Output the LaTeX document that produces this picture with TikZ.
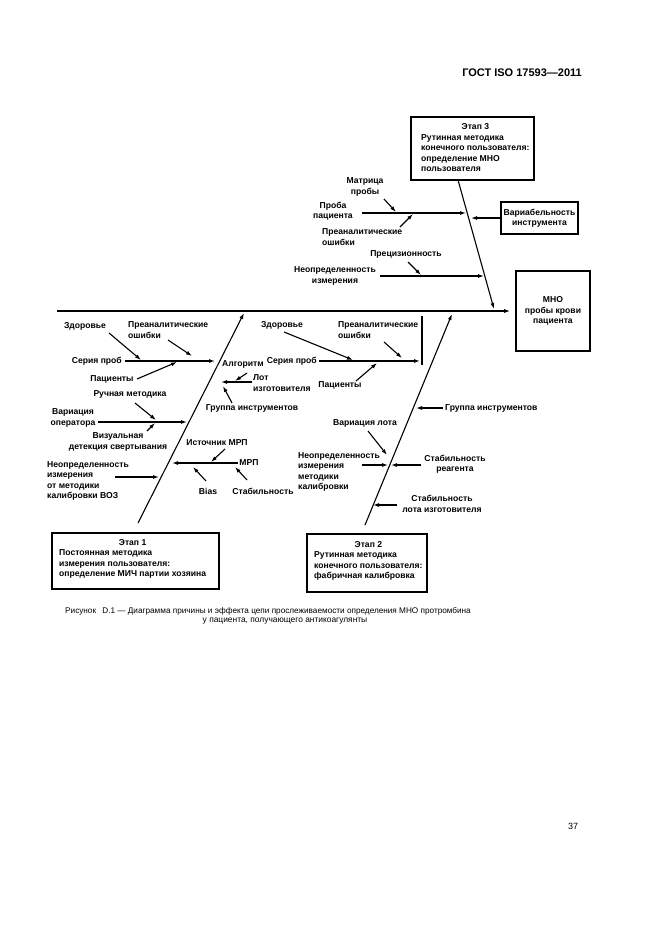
\documentclass[tikz,border=0pt]{standalone}
\usepackage{fontspec}
\setmainfont{Liberation Sans}
\usetikzlibrary{arrows.meta}
\newcommand\lblfont{\fontsize{8.6}{10.5}\selectfont\bfseries}
\newcommand\stagetitle[1]{\multicolumn{1}{@{}c@{}}{#1}}

\begin{document}
\begin{tikzpicture}[x=1pt,y=-1pt,
		lbl/.style={font=\lblfont, inner sep=0pt, align=center},
		lbll/.style={font=\lblfont, inner sep=0pt, align=left},
		ln/.style={line width=1.1pt},
		arr/.style={ln, -{Latex[length=6pt,width=4pt]}},
		framebox/.style={draw, line width=1.6pt, inner sep=0pt, font=\lblfont, align=center},
		boxtxt/.style={font=\lblfont, inner sep=0pt, anchor=west}]
		%%%%% START %%%%%
		
		\useasboundingbox (0,0) rectangle (661,936);
		
		\node[inner sep=0pt, anchor=east, font=\fontsize{11}{12}\selectfont\bfseries] (hdr) at (582,73) {ГОСТ ISO 17593—2011};
		
		% boxes
		\node[framebox, minimum width=123pt, minimum height=63pt] (stage3) at (472.5,148.5) {};
		\node[boxtxt] (stage3txt) at (421,148.5) {\begin{tabular}{@{}l@{}}\stagetitle{Этап 3}\\Рутинная методика\\конечного пользователя:\\определение МНО\\пользователя\end{tabular}};
		\node[framebox, minimum width=167pt, minimum height=56pt] (stage1) at (135.5,561) {};
		\node[boxtxt] (stage1txt) at (59,559) {\begin{tabular}{@{}l@{}}\stagetitle{Этап 1}\\Постоянная методика\\измерения пользователя:\\определение МИЧ партии хозяина\end{tabular}};
		\node[framebox, minimum width=120pt, minimum height=58pt] (stage2) at (367,563) {};
		\node[boxtxt] (stage2txt) at (314,561) {\begin{tabular}{@{}l@{}}\stagetitle{Этап 2}\\Рутинная методика\\конечного пользователя:\\фабричная калибровка\end{tabular}};
		\node[framebox, minimum width=74pt, minimum height=80pt] (mno) at (553,311) {МНО\\пробы крови\\пациента};
		\node[framebox, minimum width=77pt, minimum height=32pt] (var) at (539.5,218) {Вариабельность\\инструмента};
		
		% labels, stage 3
		\node[lbl] (matr) at (365,187) {Матрица\\пробы};
		\node[lbl] (proba) at (333,211) {Проба\\пациента};
		\node[lbll, anchor=west] (pre3) at (322,237) {Преаналитические\\ошибки};
		\node[lbl] (prec) at (406,254) {Прецизионность};
		\node[lbl] (neop3) at (335,276) {Неопределенность\\измерения};
		
		% labels, stage 1
		\node[lbl] (zdor1) at (85,326) {Здоровье};
		\node[lbll, anchor=west] (pre1) at (128,330) {Преаналитические\\ошибки};
		\node[lbl, anchor=east] (ser1) at (122,361) {Серия проб};
		\node[lbl] (pac1) at (112,379) {Пациенты};
		\node[lbl] (alg) at (243,364) {Алгоритм};
		\node[lbll, anchor=west] (lot1) at (253,383) {Лот\\изготовителя};
		\node[lbl] (grp1) at (252,408) {Группа инструментов};
		\node[lbl] (ruch) at (130,394) {Ручная методика};
		\node[lbl] (varop) at (73,418) {Вариация\\оператора};
		\node[lbl] (vis) at (118,442) {Визуальная\\детекция свертывания};
		\node[lbll, anchor=west] (neop1) at (47,481) {Неопределенность\\измерения\\от методики\\калибровки ВОЗ};
		\node[lbl] (mrp) at (249,463) {МРП};
		\node[lbl] (istmrp) at (217,443) {Источник МРП};
		\node[lbl] (bias) at (208,491) {Bias};
		\node[lbl] (stab1) at (263,491) {Стабильность};
		
		% labels, stage 2
		\node[lbl] (zdor2) at (282,325) {Здоровье};
		\node[lbll, anchor=west] (pre2) at (338,330) {Преаналитические\\ошибки};
		\node[lbl, anchor=east] (ser2) at (317,361) {Серия проб};
		\node[lbl] (pac2) at (340,385) {Пациенты};
		\node[lbl, anchor=west] (grp2) at (445,408) {Группа инструментов};
		\node[lbl] (varlot) at (365,423) {Вариация лота};
		\node[lbll, anchor=west] (neop2) at (298,472) {Неопределенность\\измерения\\методики\\калибровки};
		\node[lbl] (stabr) at (455,464) {Стабильность\\реагента};
		\node[lbl] (stabl) at (442,504) {Стабильность\\лота изготовителя};
		
		% end points
		\coordinate (spL) at (57,311);
		\coordinate (s3a) at (458,180); \coordinate (s3b) at (494,309);
		\coordinate (p3a) at (362,213); \coordinate (p3b) at (466,213);
		\coordinate (m3a) at (384,199); \coordinate (m3b) at (396,212);
		\coordinate (e3a) at (400,227); \coordinate (e3b) at (413,214);
		\coordinate (v3b) at (471,218);
		\coordinate (n3a) at (380,276); \coordinate (n3b) at (484,276);
		\coordinate (c3a) at (408,262); \coordinate (c3b) at (421,275);
		
		\coordinate (s1a) at (138,523); \coordinate (s1b) at (244,313);
		\coordinate (r1a) at (125,361); \coordinate (r1b) at (215,361);
		\coordinate (z1a) at (109,333); \coordinate (z1b) at (141,360);
		\coordinate (q1a) at (168,340); \coordinate (q1b) at (192,356);
		\coordinate (t1a) at (137,379); \coordinate (t1b) at (177,362);
		\coordinate (l1a) at (252,382); \coordinate (l1b) at (221,382);
		\coordinate (k1a) at (247,373); \coordinate (k1b) at (235,381);
		\coordinate (g1a) at (232,403); \coordinate (g1b) at (223,386);
		\coordinate (o1a) at (98,422); \coordinate (o1b) at (187,422);
		\coordinate (h1a) at (135,403); \coordinate (h1b) at (156,420);
		\coordinate (w1a) at (147,431); \coordinate (w1b) at (155,423);
		\coordinate (u1a) at (115,477); \coordinate (u1b) at (159,477);
		\coordinate (f1a) at (238,463); \coordinate (f1b) at (172,463);
		\coordinate (i1a) at (225,449); \coordinate (i1b) at (211,462);
		\coordinate (b1a) at (206,481); \coordinate (b1b) at (193,467);
		\coordinate (d1a) at (247,480); \coordinate (d1b) at (235,467);
		
		\coordinate (s2a) at (365,525); \coordinate (s2b) at (452,314);
		\coordinate (r2a) at (319,361); \coordinate (r2b) at (420,361);
		\coordinate (bar2a) at (422,316); \coordinate (bar2b) at (422,365);
		\coordinate (z2a) at (284,332); \coordinate (z2b) at (353,360);
		\coordinate (q2a) at (384,342); \coordinate (q2b) at (402,358);
		\coordinate (t2a) at (356,381); \coordinate (t2b) at (377,363);
		\coordinate (g2a) at (443,408); \coordinate (g2b) at (416,408);
		\coordinate (v2a) at (368,431); \coordinate (v2b) at (387,455);
		\coordinate (n2a) at (362,465); \coordinate (n2b) at (388,465);
		\coordinate (a2a) at (421,465); \coordinate (a2b) at (391,465);
		\coordinate (y2a) at (397,505); \coordinate (y2b) at (373,505);
		
		% spine
		\draw[arr, line width=1.3pt, shorten >=5pt] (spL) -- (mno.west);
		
		% stage 3 side
		\draw[arr] (s3a) -- (s3b);
		\draw[arr] (p3a) -- (p3b);
		\draw[arr] (m3a) -- (m3b);
		\draw[arr] (e3a) -- (e3b);
		\draw[arr] (var.west) -- (v3b);
		\draw[arr] (n3a) -- (n3b);
		\draw[arr] (c3a) -- (c3b);
		
		% stage 1 side
		\draw[arr] (s1a) -- (s1b);
		\draw[arr] (r1a) -- (r1b);
		\draw[arr] (z1a) -- (z1b);
		\draw[arr] (q1a) -- (q1b);
		\draw[arr] (t1a) -- (t1b);
		\draw[arr] (l1a) -- (l1b);
		\draw[arr] (k1a) -- (k1b);
		\draw[arr] (g1a) -- (g1b);
		\draw[arr] (o1a) -- (o1b);
		\draw[arr] (h1a) -- (h1b);
		\draw[arr] (w1a) -- (w1b);
		\draw[arr] (u1a) -- (u1b);
		\draw[arr] (f1a) -- (f1b);
		\draw[arr] (i1a) -- (i1b);
		\draw[arr] (b1a) -- (b1b);
		\draw[arr] (d1a) -- (d1b);
		
		% stage 2 side
		\draw[arr] (s2a) -- (s2b);
		\draw[arr] (r2a) -- (r2b);
		\draw[ln] (bar2a) -- (bar2b);
		\draw[arr] (z2a) -- (z2b);
		\draw[arr] (q2a) -- (q2b);
		\draw[arr] (t2a) -- (t2b);
		\draw[arr] (g2a) -- (g2b);
		\draw[arr] (v2a) -- (v2b);
		\draw[arr] (n2a) -- (n2b);
		\draw[arr] (a2a) -- (a2b);
		\draw[arr] (y2a) -- (y2b);
		
		% caption
		\node[inner sep=0pt, anchor=west, font=\fontsize{8.2}{10.5}\selectfont] (cap1) at (65,611) {Рисунок\hspace{4pt} D.1 — Диаграмма причины и эффекта цепи прослеживаемости определения МНО протромбина};
		\node[inner sep=0pt, font=\fontsize{8.4}{10.5}\selectfont] (cap2) at (285,621) {у пациента, получающего антикоагулянты};
		\node[inner sep=0pt, font=\fontsize{9}{11}\selectfont] (pnum) at (573,826) {37};
		
		%%%%% END %%%%%
	\end{tikzpicture}
\end{document}
